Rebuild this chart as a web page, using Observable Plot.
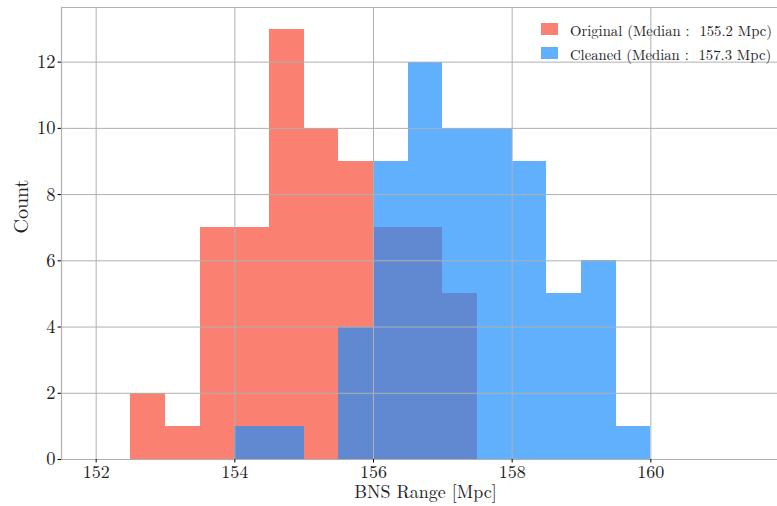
<!DOCTYPE html>
<html>
<head>
<meta charset="utf-8">
<script src="https://cdn.jsdelivr.net/npm/d3@7"></script>
<script src="https://cdn.jsdelivr.net/npm/@observablehq/plot@0.6"></script>
<style>
  html, body { margin: 0; padding: 0; background: #fff; overflow: hidden; }
  #wrap { position: relative; width: 777px; height: 506px; overflow: hidden; font-family: 'Latin Modern Roman', 'Liberation Serif', serif; }
  #wrap svg { overflow: hidden; }
  .legend { position: absolute; left: 541px; top: 17px; font-size: 14.7px; color: #222; font-family: 'Latin Modern Roman', 'Liberation Serif', serif; }
  .legend .row { display: flex; align-items: center; height: 24px; white-space: pre; }
  .legend .sw { width: 17px; height: 12px; margin-right: 12px; }
</style>
</head>
<body>
<div id="wrap"></div>
<script>
const binStarts = [152.5, 153, 153.5, 154, 154.5, 155, 155.5, 156, 156.5, 157, 157.5, 158, 158.5, 159, 159.5];
const binWidth = 0.5;
const original = [2, 1, 7, 7, 13, 10, 9, 7, 7, 5, 0, 0, 0, 0, 0];
const cleaned  = [0, 0, 0, 1, 1, 0, 4, 9, 12, 10, 10, 9, 5, 6, 1];
const xTicks = [152, 154, 156, 158, 160];
const yTicks = [0, 2, 4, 6, 8, 10, 12];
const xDomain = [151.5, 162];
const yDomain = [0, 13.65];
const legendLabels = ["Original (Median :  155.2 Mpc)", "Cleaned (Median :  157.3 Mpc)"];
const colors = {original: "#fa8072", cleaned: "#61b0fe", overlap: "#6089d1"};

const rows = binStarts.map((x, i) => ({
  x1: x, x2: x + binWidth,
  orig: original[i], clean: cleaned[i], both: Math.min(original[i], cleaned[i])
}));

const FONT = "'Latin Modern Roman', 'Liberation Serif', serif";
const grid = "#b0b0b0";
const chart = Plot.plot({
  width: 777,
  height: 506,
  marginLeft: 61,
  marginRight: 0,
  marginTop: 7,
  marginBottom: 47,
  style: {fontFamily: FONT, fontSize: "18px", color: "#222", background: "#fff", overflow: "hidden"},
  x: {domain: xDomain, range: [61, 789]},
  y: {domain: yDomain},
  marks: [
    Plot.rectY(rows, {x1: "x1", x2: "x2", y: "orig", fill: colors.original, shapeRendering: "crispEdges"}),
    Plot.rectY(rows, {x1: "x1", x2: "x2", y: "clean", fill: colors.cleaned, shapeRendering: "crispEdges"}),
    Plot.rectY(rows, {x1: "x1", x2: "x2", y: "both", fill: colors.overlap, shapeRendering: "crispEdges"}),
    Plot.gridX(xTicks, {stroke: grid, strokeOpacity: 1, strokeWidth: 1}),
    Plot.gridY(yTicks, {stroke: grid, strokeOpacity: 1, strokeWidth: 1}),
    Plot.ruleX([xDomain[0], xDomain[1]], {stroke: grid, strokeWidth: 1.2}),
    Plot.ruleY(yDomain, {stroke: grid, strokeWidth: 1.2}),
    Plot.axisX(xTicks, {tickSize: 3.5, tickPadding: 2, stroke: "#000", fontSize: 18, fontFamily: FONT, fill: "#222", label: null}),
    Plot.axisY(yTicks, {tickSize: 3.5, tickPadding: 2.5, stroke: "#000", fontSize: 18.5, fontFamily: FONT, fill: "#222", label: null}),
    Plot.text(["BNS Range [Mpc]"], {x: (xDomain[0] + xDomain[1]) / 2, frameAnchor: "bottom", dy: 38, fontSize: 18, fontFamily: FONT, fill: "#222"}),
    Plot.text(["Count"], {frameAnchor: "left", rotate: -90, dx: -40, fontSize: 20, fontFamily: FONT, fill: "#222"})
  ]
});
const wrap = document.getElementById("wrap");
wrap.appendChild(chart);

const legend = document.createElement("div");
legend.className = "legend";
[["original", legendLabels[0]], ["cleaned", legendLabels[1]]].forEach(([k, label]) => {
  const row = document.createElement("div");
  row.className = "row";
  const sw = document.createElement("div");
  sw.className = "sw";
  sw.style.background = colors[k];
  const t = document.createElement("span");
  t.textContent = label;
  row.appendChild(sw); row.appendChild(t);
  legend.appendChild(row);
});
wrap.appendChild(legend);
</script>
</body>
</html>
